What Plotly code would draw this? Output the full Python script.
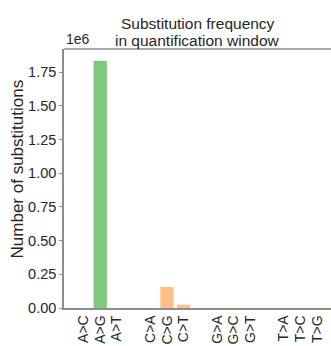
import plotly.graph_objects as go

# Substitution counts in the quantification window, grouped by reference base
categories = ["A>C", "A>G", "A>T", "C>A", "C>G", "C>T",
              "G>A", "G>C", "G>T", "T>A", "T>C", "T>G"]
counts = [0, 1834000, 0, 0, 156000, 25000,
          0, 0, 0, 0, 0, 0]
# slot index of each category (one empty slot between base groups)
slots = [0, 1, 2, 4, 5, 6, 8, 9, 10, 12, 13, 14]
base_colors = {"A": "#7FC97F", "C": "#FDC086", "G": "#FFFF99", "T": "#BEAED4"}
bar_colors = [base_colors[c[0]] for c in categories]

y_ticks = [0, 250000, 500000, 750000, 1000000, 1250000, 1500000, 1750000]
y_tick_text = ["0.00", "0.25", "0.50", "0.75", "1.00", "1.25", "1.50", "1.75"]

title_lines = ["Substitution frequency", "in quantification window"]
y_label = "Number of substitutions"

font_family = "Liberation Sans, Arial, sans-serif"
spine = "#8c8c8c"
ink = "#262626"

fig = go.Figure(go.Bar(
    x=slots, y=counts, marker=dict(color=bar_colors, line=dict(width=0)),
    width=0.8,
))

fig.update_layout(
    width=331, height=346,
    margin=dict(l=64, r=0, t=49, b=38),
    paper_bgcolor="white", plot_bgcolor="white",
    showlegend=False,
    font=dict(family=font_family, color=ink, size=15),
    xaxis=dict(
        range=[-1.17, 14.83], tickmode="array", tickvals=slots, ticktext=categories,
        tickangle=-90, ticks="",
        showgrid=False, zeroline=False,
        showline=True, linecolor=spine, linewidth=1.5, mirror=False,
        tickfont=dict(size=14), automargin=False,
    ),
    yaxis=dict(
        range=[0, 1921000], tickmode="array", tickvals=y_ticks, ticktext=y_tick_text,
        ticks="outside", ticklen=3, tickcolor=spine, tickwidth=1,
        showgrid=False, zeroline=False,
        showline=True, linecolor=spine, linewidth=1.5,
        tickfont=dict(size=14.5), automargin=False,
    ),
    shapes=[dict(type="line", xref="paper", yref="paper", x0=0, x1=1, y0=1, y1=1,
                 line=dict(color=spine, width=1.5))],
    annotations=[
        dict(text=title_lines[0], xref="paper", yref="paper", x=0.5, y=1.0985,
             xanchor="center", yanchor="middle", showarrow=False,
             font=dict(size=15.5, color=ink)),
        dict(text=title_lines[1], xref="paper", yref="paper", x=0.5, y=1.0347,
             xanchor="center", yanchor="middle", showarrow=False,
             font=dict(size=15.5, color=ink)),
        dict(text=y_label, xref="paper", yref="paper", x=-0.1760, y=0.535,
             xanchor="center", yanchor="middle", textangle=-90, showarrow=False,
             font=dict(size=17, color=ink)),
        dict(text="1e6", xref="paper", yref="paper", x=0, y=1,
             xanchor="left", yanchor="bottom", showarrow=False,
             font=dict(size=14, color=ink)),
    ],
)

fig.write_html("out.html")
